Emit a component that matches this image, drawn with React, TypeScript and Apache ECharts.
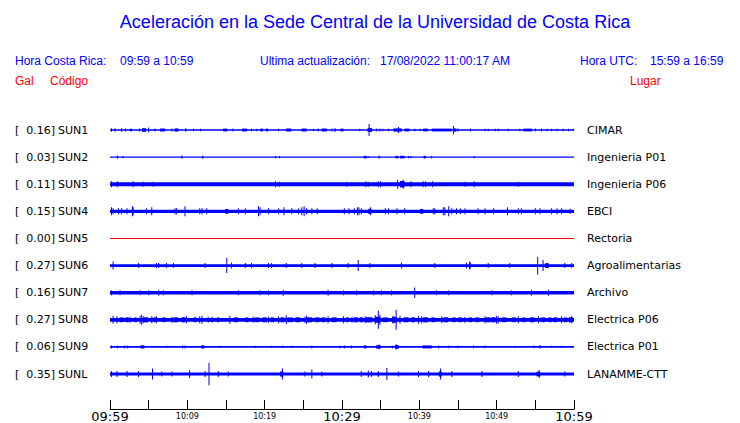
import React, { useEffect, useRef } from "react";
import * as echarts from "echarts";

const codes = ["SUN1", "SUN2", "SUN3", "SUN4", "SUN5", "SUN6", "SUN7", "SUN8", "SUN9", "SUNL"];
const galPeaks = ["0.16]", "0.03]", "0.11]", "0.15]", "0.00]", "0.27]", "0.16]", "0.27]", "0.06]", "0.35]"];
const places = ["CIMAR", "Ingenieria P01", "Ingenieria P06", "EBCI", "Rectoria", "Agroalimentarias", "Archivo", "Electrica P06", "Electrica P01", "LANAMME-CTT"];
const traceColors = ["#0000ff", "#0000ff", "#0000ff", "#0000ff", "#ff0000", "#0000ff", "#0000ff", "#0000ff", "#0000ff", "#0000ff"];
// baseline half-amplitude of each trace
const baseAmp = [0.7, 0.5, 2.0, 1.6, 0.5, 1.4, 1.7, 1.9, 0.8, 1.4];
// x tick labels every 10 minutes (0..60 minutes after 09:59)
const timeLabels = ["09:59", "10:09", "10:19", "10:29", "10:39", "10:49", "10:59"];

// events: [minute, half-amplitude, duration in minutes (optional)]
const sun1 = [[0.2,1.8],[0.65,1.8],[1.5,1.8],[2.0,1.5],[2.7,1.3,0.3],[3.8,1.5],[4.4,1.8,0.55],[5.0,2.6],[5.8,1.5],[6.8,1.5,0.65],[8.0,1.5],[8.6,1.6,0.5],[9.8,1.8],[10.8,1.3],[11.7,1.3],[14.9,1.4,0.55],[15.9,1.5],[17.4,1.4,0.65],[18.3,1.3],[19.0,1.3],[19.6,1.5,0.3],[20.3,1.4,0.3],[21.8,1.3],[23.1,1.5,0.65],[25.1,1.5,0.65],[26.3,1.3],[26.9,1.5],[27.7,1.5,0.65],[28.7,1.5],[29.1,2],[30.0,1.4,0.4],[32.3,1.2],[33.5,6.0],[33.6,1.9,0.6],[34.5,1.5],[34.9,1.5],[35.3,1.3],[36.0,1.3],[37.2,1.6,1.1],[37.3,3],[38.4,1.4,0.65],[39.4,1.3],[40.1,1.3],[40.8,1.4,0.65],[42.9,1.4,2.6],[44.4,4.2],[44.6,1.6,0.4],[45.0,1.5],[46.6,1.5],[48.5,1.3],[48.9,1.3],[49.8,1.3],[50.2,1.3],[51.5,1.3],[53.0,1.3],[54.0,1.4,1.1],[55.0,1.5],[55.8,1.5],[56.5,1.3],[57.1,1.3],[57.8,1.3],[58.6,1.3],[59.3,1.3],[59.9,1.3]];
const sun2 = [[0.95,1.5],[1.7,1],[9.3,1.5],[12.0,1.5],[21.4,1.2],[21.9,1],[33.0,1.3,0.4],[33.4,0.8],[34.8,1.5],[37.1,1.3,0.4],[37.8,1.3,0.6],[38.6,1],[38.9,1],[40.7,1.3,0.3],[41.6,1.3],[47.1,1]];
const sun3 = [[0.2,3],[0.95,3],[3.0,3],[4.3,2.5],[5.6,2.5],[21.4,3],[21.9,2.5],[30.6,2.5],[33.1,3],[33.4,2.5],[34.7,3],[35.0,3],[37.2,4.5],[37.8,3.2,0.6],[37.9,4.5],[38.9,3],[40.5,3],[40.8,3],[41.7,3],[45.9,2.5],[47.1,3],[52.8,2.5]];
const sun4 = [[0.2,4],[0.4,3],[1.1,3],[1.5,3],[2.2,3],[2.9,5],[3.0,4],[4.7,3],[5.4,4],[8.4,3],[8.6,3],[9.7,5],[11.6,3],[11.9,3],[12.5,3],[15.1,2.4,0.4],[16.6,3],[17.5,3],[19.2,5],[19.4,4],[20.5,3],[21.8,3],[22.5,4],[23.5,3],[24.4,3],[24.8,4],[25.1,5],[25.4,3],[26.1,3],[26.8,3],[30.3,3],[30.9,3],[31.6,3],[32.0,4],[32.2,4],[32.5,3],[33.6,2.6,0.4],[33.7,4],[35.6,3],[36.0,3],[37.1,3],[38.1,3],[40.3,2.4,0.4],[41.8,3],[42.0,3],[43.1,4],[43.3,4],[43.8,5],[44.2,3],[44.8,3],[45.3,3],[45.9,3],[47.6,3],[48.5,3],[49.6,3],[51.4,4],[52.8,3],[53.2,3],[55.0,3],[55.6,3],[57.1,3],[57.8,3],[58.4,3],[59.5,2.5]];
const sun5: number[][] = [];
const sun6 = [[0.4,4],[3.7,2.5],[6.0,2.5],[6.3,2.5],[7.3,2.5],[8.2,2.5],[12.3,2.5],[15.1,7.5],[15.7,3],[17.5,2.5],[18.3,2.5],[20.5,2.5],[20.9,2.5],[22.8,2.5],[24.8,2.5],[26.5,2.5],[28.7,2.5],[30.8,2.5],[32.1,5.5],[33.6,2.5],[37.7,3],[42.0,2.5],[46.1,3],[46.5,4],[46.6,3],[48.9,2.5],[51.7,2.5],[55.3,8.8],[56.0,5.5],[56.5,2.4,0.5],[58.8,2.5],[59.7,2.5]];
const sun7 = [[0.2,2.5],[1.3,2.5],[3.9,2.5],[5.0,2.5],[6.3,3],[6.9,2.5],[10.6,2.5],[16.6,2.5],[19.4,2.5],[20.5,2.5],[22.4,3],[28.2,3],[30.2,2.5],[31.9,2.5],[34.1,2.5],[35.1,2.5],[36.4,2.5],[39.4,5.2],[42.2,2.5],[43.8,2.5],[49.4,2.5],[51.9,2.5],[54.5,3],[56.7,3]];
const sun8 = [[0.4,4],[0.9,3.5],[1.5,2.4,0.5],[2.2,2.5,0.4],[2.6,3],[3.3,2.4,0.3],[3.9,4],[4.1,5],[4.3,3.5],[4.6,2.6,0.6],[5.4,3.5],[5.8,2.4,0.5],[6.0,3.5],[7.0,2.4,0.4],[8.0,3],[8.5,2.5,0.6],[9.5,2.6,0.5],[9.9,3.5],[11.0,2.4,0.4],[11.6,3.5],[11.9,4],[12.7,3],[13.2,2.4,0.3],[14.0,2.4,0.3],[15.5,4],[16.3,2.4,0.5],[17.7,2.4,0.4],[18.5,3],[19.0,2.4,0.6],[20.0,2.5,0.5],[20.5,3],[21.0,2.4,0.4],[21.8,3.5],[22.3,2.5,0.5],[22.8,4.5],[23.3,2.4,0.7],[24.3,2.5,0.6],[25.2,3],[25.4,4],[25.8,2.5,0.7],[26.8,2.4,0.6],[27.6,2.4,0.5],[28.2,3.5],[29.0,2.4,0.6],[30.2,3.5],[30.7,2.4,0.4],[31.3,3],[31.8,2.5,0.5],[32.5,2.5,0.4],[33.0,3.5],[33.5,2.6,0.8],[34.3,4.5],[34.6,3,0.7],[34.7,9],[34.9,5],[35.6,2.4,0.6],[36.6,4],[36.8,3,0.6],[37.0,10],[37.5,4],[38.3,2.5,0.6],[39.2,2.5,0.5],[39.9,4],[40.3,3.5],[40.8,2.6,0.6],[41.8,2.4,0.5],[42.9,3.5],[43.4,2.5,0.6],[44.5,2.4,0.4],[45.3,2.4,0.5],[45.9,3],[46.6,2.4,0.4],[47.5,2.4,0.5],[48.5,3.5],[48.9,2.5,0.6],[49.6,2.6,0.5],[50.0,4],[50.2,3.5],[51.0,2.4,0.6],[52.2,2.4,0.5],[52.8,3.5],[53.5,2.4,0.4],[54.6,2.5,0.6],[55.4,3.5],[56.0,2.4,0.5],[56.9,2.4,0.4],[57.6,2.4,0.5],[58.4,3.5],[58.9,2.4,0.4],[59.6,2.6,0.5],[59.7,3.5]];
const sun9 = [[0.2,1.5],[0.95,1.5],[1.9,1.5],[2.3,1.5],[4.2,1.6,0.5],[7.3,1.2],[9.4,1.5],[9.7,1.5],[12.0,1.6,0.4],[14.2,1.2],[18.8,1.2],[20.9,1.2],[22.3,1.2],[23.5,1.2],[26.1,1.5],[29.7,1.5],[30.3,1.5],[31.2,1.5],[33.0,1.5,0.35],[34.7,1.7,0.6],[34.8,2.4],[36.5,1.5],[37.1,1.8,0.5],[37.0,2.6],[41.0,1.5,1.2],[42.5,1.5],[43.8,1.3],[45.0,1.3],[47.0,1.3],[48.5,1.3],[52.4,1.2],[54.8,1.3],[55.6,1.8],[57.1,1.2],[58.4,1.2]];
const sunl = [[0.2,3],[0.9,3],[2.2,3],[3.7,3],[5.5,5.5],[6.7,2.5],[8.0,2.5],[10.3,4],[12.3,3],[12.8,11.3],[14.0,3],[15.3,2.5],[22.2,2.6,0.4],[22.3,5.5],[25.2,2.5],[26.1,4.5],[27.4,2.5],[32.5,3],[33.4,3.5],[33.8,3],[34.7,3],[35.8,6],[37.3,2.5],[39.9,3],[41.2,3],[42.7,2.6,0.35],[42.75,5.5],[44.2,3],[48.1,3],[52.8,3],[55.4,2.4,0.5],[55.5,4],[58.8,2.5]];
const stationEvents = [sun1, sun2, sun3, sun4, sun5, sun6, sun7, sun8, sun9, sunl];

const AMP_PER_ROW = 27.11; // amplitude units in one row spacing
const TICK_DUR = 0.13;

function rowLabel(list: string[]) {
  return (v: number) => (Number.isInteger(v) && v >= 1 && v <= 10 ? list[v - 1] : "");
}

export default function App() {
  const ref = useRef<HTMLDivElement>(null);
  useEffect(() => {
    if (!ref.current) return;
    const chart = echarts.init(ref.current, undefined, { renderer: "svg" });
    const labelFont = { fontFamily: "DejaVu Sans", fontSize: 11, color: "#000" };
    const yBase = {
      type: "value" as const,
      min: 0,
      max: 11.29,
      interval: 1,
      inverse: true,
      axisLine: { show: false },
      axisTick: { show: false },
      splitLine: { show: false },
    };
    const series = stationEvents.map((ev, i) => {
      const row = i + 1;
      const color = traceColors[i];
      const data = [[30, row, baseAmp[i], 60], ...ev.map((e) => [e[0], row, e[1], e[2] ?? TICK_DUR])];
      return {
        type: "custom" as const,
        name: codes[i],
        xAxisIndex: 0,
        yAxisIndex: 0,
        itemStyle: { color },
        silent: true,
        data,
        renderItem: (params: any, api: any) => {
          const t = api.value(0);
          const r = api.value(1);
          const a = api.value(2) / AMP_PER_ROW;
          const w = api.value(3);
          const p0 = api.coord([t - w / 2, r - a]);
          const p1 = api.coord([t + w / 2, r + a]);
          let x = Math.min(p0[0], p1[0]);
          let width = Math.abs(p1[0] - p0[0]);
          if (width < 1) {
            x = (p0[0] + p1[0]) / 2 - 0.5;
            width = 1;
          }
          const y = Math.min(p0[1], p1[1]);
          const height = Math.max(1, Math.abs(p1[1] - p0[1]));
          return { type: "rect", shape: { x, y, width, height }, style: { fill: color } };
        },
      };
    });
    const hdr = { fontFamily: "Liberation Sans", fontSize: 12, fill: "#0000ff", textVerticalAlign: "middle" };
    const red = { fontFamily: "Liberation Sans", fontSize: 12, fill: "#ff0000", textVerticalAlign: "middle" };
    chart.setOption({
      animation: false,
      backgroundColor: "#ffffff",
      grid: { left: 110, right: 166, top: 102.9, bottom: 14, outerBoundsMode: "none" },
      xAxis: {
        type: "value",
        min: 0,
        max: 60,
        interval: 5,
        position: "bottom",
        axisLine: { show: true, onZero: false, lineStyle: { color: "#000", width: 1 } },
        axisTick: { show: true, inside: true, length: 9, lineStyle: { color: "#000", width: 1 } },
        splitLine: { show: false },
        axisLabel: {
          margin: 1,
          showMinLabel: true,
          showMaxLabel: true,
          formatter: (v: number) => {
            if (v % 10 !== 0) return "";
            const lbl = timeLabels[v / 10];
            return v % 30 === 0 ? `{big|${lbl}}` : `{small|${lbl}}`;
          },
          rich: {
            big: { fontFamily: "DejaVu Sans", fontSize: 13, lineHeight: 13, color: "#000" },
            small: { fontFamily: "DejaVu Sans", fontSize: 8, lineHeight: 12, color: "#000" },
          },
        },
      },
      yAxis: [
        { ...yBase, position: "left", axisLabel: { ...labelFont, align: "left", margin: 95, formatter: rowLabel(codes.map(() => "[")) } },
        { ...yBase, position: "left", axisLabel: { ...labelFont, align: "right", margin: 55, formatter: rowLabel(galPeaks) } },
        { ...yBase, position: "left", axisLabel: { ...labelFont, align: "left", margin: 52, formatter: rowLabel(codes) } },
        { ...yBase, position: "right", axisLabel: { ...labelFont, align: "left", margin: 13, formatter: rowLabel(places) } },
      ],
      series,
      graphic: [
        { type: "text", x: 375, y: 22, style: { text: "Aceleración en la Sede Central de la Universidad de Costa Rica", fontFamily: "Liberation Sans", fontSize: 18, fill: "#0000ff", textAlign: "center", textVerticalAlign: "middle" } },
        { type: "text", x: 15, y: 60.5, style: { ...hdr, text: "Hora Costa Rica:" } },
        { type: "text", x: 120, y: 60.5, style: { ...hdr, text: "09:59 a 10:59" } },
        { type: "text", x: 260, y: 60.5, style: { ...hdr, text: "Ultima actualización:" } },
        { type: "text", x: 380, y: 60.5, style: { ...hdr, text: "17/08/2022 11:00:17 AM" } },
        { type: "text", x: 580, y: 60.5, style: { ...hdr, text: "Hora UTC:" } },
        { type: "text", x: 650, y: 60.5, style: { ...hdr, text: "15:59 a 16:59" } },
        { type: "text", x: 15, y: 80.5, style: { ...red, text: "Gal" } },
        { type: "text", x: 50, y: 80.5, style: { ...red, text: "Código" } },
        { type: "text", x: 630, y: 80.5, style: { ...red, text: "Lugar" } },
      ],
    });
    return () => chart.dispose();
  }, []);
  return <div ref={ref} style={{ position: "fixed", left: 0, top: 0, width: 740, height: 423 }} />;
}
